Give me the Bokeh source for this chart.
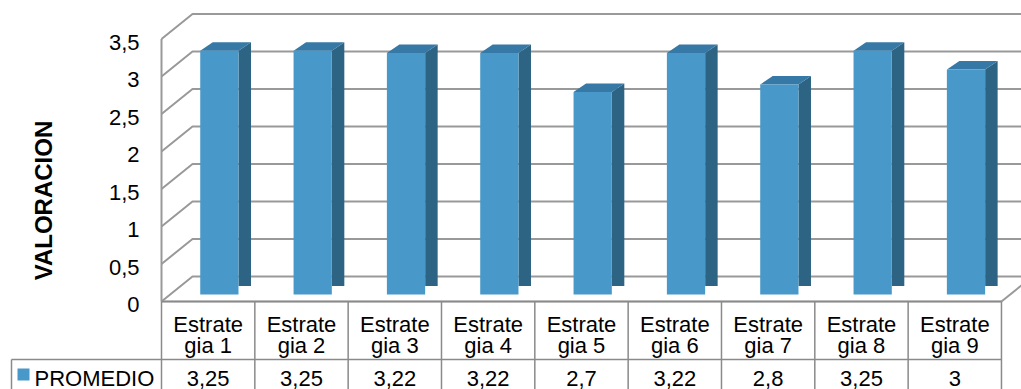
import math
from bokeh.plotting import figure
from bokeh.models import Range1d
from bokeh.core.properties import value
from bokeh.embed import file_html
from bokeh.resources import INLINE

# ---------------- data ----------------
categories = ["Estrategia 1", "Estrategia 2", "Estrategia 3", "Estrategia 4", "Estrategia 5",
              "Estrategia 6", "Estrategia 7", "Estrategia 8", "Estrategia 9"]
cat_line1 = ["Estrate"] * 9
cat_line2 = ["gia 1", "gia 2", "gia 3", "gia 4", "gia 5", "gia 6", "gia 7", "gia 8", "gia 9"]
promedio = [3.25, 3.25, 3.22, 3.22, 2.7, 3.22, 2.8, 3.25, 3.0]
value_labels = ["3,25", "3,25", "3,22", "3,22", "2,7", "3,22", "2,8", "3,25", "3"]
y_ticks = [0, 0.5, 1, 1.5, 2, 2.5, 3, 3.5]
y_tick_labels = ["0", "0,5", "1", "1,5", "2", "2,5", "3", "3,5"]
series_name = "PROMEDIO"
y_title = "VALORACION"

# ---------------- layout constants (pixels -> data units) ----------------
W, H = 1021, 389
PXU = 93.33   # px per category slot
PYU = 75.0    # px per value unit
OX, OY = 161, 301  # pixel position of (slot 0 left edge, value 0) on the front plane

def ux(px):
    return (px - OX) / PXU

def vy(py):
    return (OY - py) / PYU

WALL_DX, WALL_DY = 31 / PXU, 25 / PYU
BAR_DX, BAR_DY = 12.5 / PXU, 8.5 / PYU
BAR_BASE = 7 / PYU
BAR_X0, BAR_W = 0.415, 0.41

FONT = value("Liberation Sans")
FS = "22px"
GRID = "#999999"
TABLE = "#8a8a8a"
FRONT, TOP, SIDE = "#4899c9", "#3679a6", "#2d6383"

n = len(categories)
ymax = y_ticks[-1]

p = figure(width=W, height=H, output_backend="svg", toolbar_location=None,
           x_range=Range1d(ux(0), ux(W)), y_range=Range1d(vy(H), vy(0)),
           min_border=0)
p.axis.visible = False
p.grid.visible = False
p.outline_line_color = None
p.background_fill_color = "white"
p.border_fill_color = "white"

# gridlines on side wall + back wall
gx = [[0, WALL_DX, n + WALL_DX + 0.5] for _ in y_ticks]
gy = [[t, t + WALL_DY, t + WALL_DY] for t in y_ticks]
p.multi_line(gx, gy, line_color=GRID, line_width=2)
# left wall front edge, floor front edge, floor right edge
p.multi_line([[0, 0], [0, n], [n, n + WALL_DX]],
             [[0, ymax], [0, 0], [0, WALL_DY]], line_color=GRID, line_width=2)

# bars (3D look)
fx, fy, sx, sy, tx, ty = [], [], [], [], [], []
for i, v in enumerate(promedio):
    x0 = i + BAR_X0
    x1 = x0 + BAR_W
    b = BAR_BASE
    top = b + v
    fx.append([x0, x1, x1, x0]); fy.append([b, b, top, top])
    sx.append([x1, x1 + BAR_DX, x1 + BAR_DX, x1]); sy.append([b + BAR_DY, b + BAR_DY, top + BAR_DY, top])
    tx.append([x0, x1, x1 + BAR_DX, x0 + BAR_DX]); ty.append([top, top, top + BAR_DY, top + BAR_DY])
p.patches(sx, sy, fill_color=SIDE, line_color=None)
p.patches(tx, ty, fill_color=TOP, line_color=None)
p.patches(fx, fy, fill_color=FRONT, line_color=None)

# data table lines
row_y = vy(359)
bottom_y = vy(H + 5)
vx = [[i, i] for i in range(n + 1)]
vyl = [[0, bottom_y] for _ in range(n + 1)]
p.multi_line(vx, vyl, line_color=TABLE, line_width=1.5)
p.multi_line([[ux(11), n], [ux(11), ux(11)], [0, n]],
             [[row_y, row_y], [row_y, bottom_y], [0, 0]], line_color=TABLE, line_width=1.5)

centers = [i + 0.5 for i in range(n)]
p.text(x=centers, y=[vy(324)] * n, text=cat_line1, text_font=FONT, text_font_size=FS,
       text_align="center", text_baseline="middle", text_color="black")
p.text(x=centers, y=[vy(344.5)] * n, text=cat_line2, text_font=FONT, text_font_size=FS,
       text_align="center", text_baseline="middle", text_color="black")
p.text(x=centers, y=[vy(377.5)] * n, text=value_labels, text_font=FONT, text_font_size=FS,
       text_align="center", text_baseline="middle", text_color="black")

# legend key + series name
p.quad(left=[ux(17)], right=[ux(29)], bottom=[vy(380)], top=[vy(368)],
       fill_color=FRONT, line_color=None)
p.text(x=[ux(34)], y=[vy(377.5)], text=[series_name], text_font=FONT, text_font_size=FS,
       text_align="left", text_baseline="middle", text_color="black")

# y tick labels
p.text(x=[ux(139)] * len(y_ticks), y=[t - 3 / PYU for t in y_ticks], text=y_tick_labels,
       text_font=FONT, text_font_size=FS, text_align="right", text_baseline="middle",
       text_color="black")

# y title
p.text(x=[ux(43)], y=[vy(200)], text=[y_title], angle=math.pi / 2, text_font=FONT,
       text_font_size="24px", text_font_style="bold", text_align="center",
       text_baseline="middle", text_color="black")

open("out.html", "w").write(file_html(p, INLINE))
